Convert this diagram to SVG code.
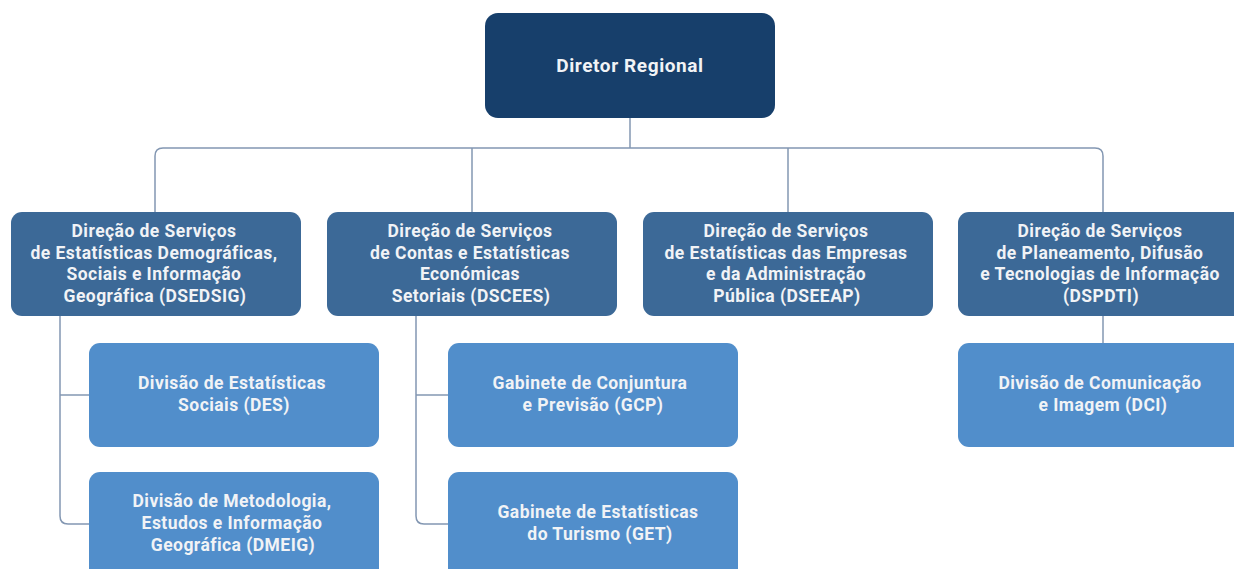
<svg xmlns="http://www.w3.org/2000/svg" width="1234" height="569" viewBox="0 0 1234 569">
<style>
.top{fill:#173f6b}
.l2{fill:#3c6997}
.l3{fill:#518ecb}
text{font-family:Roboto,"Liberation Sans",sans-serif;font-weight:bold;fill:#f1f3f6;text-anchor:middle;font-size:17.5px;letter-spacing:0.45px}
.big{font-size:19px;letter-spacing:0.6px}
.con{fill:none;stroke:#8397b2;stroke-width:1.5}
</style>
<rect width="1234" height="569" fill="#ffffff"/>
<g id="connectors">
<path class="con" d="M630 118 V148"/>
<path class="con" d="M155 212 V156 Q155 148 163 148 H1095 Q1103 148 1103 156 V212"/>
<path class="con" d="M472 148 V212"/>
<path class="con" d="M788 148 V212"/>
<path class="con" d="M60 316 V516 Q60 524 68 524 H89"/>
<path class="con" d="M60 395 H89"/>
<path class="con" d="M416 316 V516 Q416 524 424 524 H448"/>
<path class="con" d="M416 395 H448"/>
<path class="con" d="M1103 316 V343"/>
</g>
<g id="n-diretor">
<rect class="top" x="485" y="13" width="290" height="105" rx="13"/>
<text class="big" x="630" y="72">Diretor Regional</text>
</g>
<g id="n-dsedsig">
<rect class="l2" x="11" y="212" width="290" height="104" rx="11"/>
<text x="154" y="237">Direção de Serviços</text>
<text x="154" y="259">de Estatísticas Demográficas,</text>
<text x="154" y="280">Sociais e Informação</text>
<text x="155" y="302">Geográfica (DSEDSIG)</text>
</g>
<g id="n-dscees">
<rect class="l2" x="327" y="212" width="290" height="104" rx="11"/>
<text x="470" y="237">Direção de Serviços</text>
<text x="470" y="259">de Contas e Estatísticas</text>
<text x="470" y="280">Económicas</text>
<text x="471" y="302">Setoriais (DSCEES)</text>
</g>
<g id="n-dseeap">
<rect class="l2" x="643" y="212" width="290" height="104" rx="11"/>
<text x="786" y="237">Direção de Serviços</text>
<text x="786" y="259">de Estatísticas das Empresas</text>
<text x="786" y="280">e da Administração</text>
<text x="787" y="302">Pública (DSEEAP)</text>
</g>
<g id="n-dspdti">
<rect class="l2" x="958" y="212" width="290" height="104" rx="11"/>
<text x="1100" y="237">Direção de Serviços</text>
<text x="1100" y="259">de Planeamento, Difusão</text>
<text x="1100" y="280">e Tecnologias de Informação</text>
<text x="1101" y="302">(DSPDTI)</text>
</g>
<g id="n-des">
<rect class="l3" x="89" y="343" width="290" height="104" rx="11"/>
<text x="232" y="389">Divisão de Estatísticas</text>
<text x="234" y="411">Sociais (DES)</text>
</g>
<g id="n-dmeig">
<rect class="l3" x="89" y="472" width="290" height="110" rx="11"/>
<text x="232" y="507">Divisão de Metodologia,</text>
<text x="232" y="529">Estudos e Informação</text>
<text x="233" y="551">Geográfica (DMEIG)</text>
</g>
<g id="n-gcp">
<rect class="l3" x="448" y="343" width="290" height="104" rx="11"/>
<text x="590" y="389">Gabinete de Conjuntura</text>
<text x="593" y="411">e Previsão (GCP)</text>
</g>
<g id="n-get">
<rect class="l3" x="448" y="472" width="290" height="110" rx="11"/>
<text x="598" y="518">Gabinete de Estatísticas</text>
<text x="600" y="540">do Turismo (GET)</text>
</g>
<g id="n-dci">
<rect class="l3" x="958" y="343" width="290" height="104" rx="11"/>
<text x="1100" y="389">Divisão de Comunicação</text>
<text x="1103" y="411">e Imagem (DCI)</text>
</g>
</svg>
